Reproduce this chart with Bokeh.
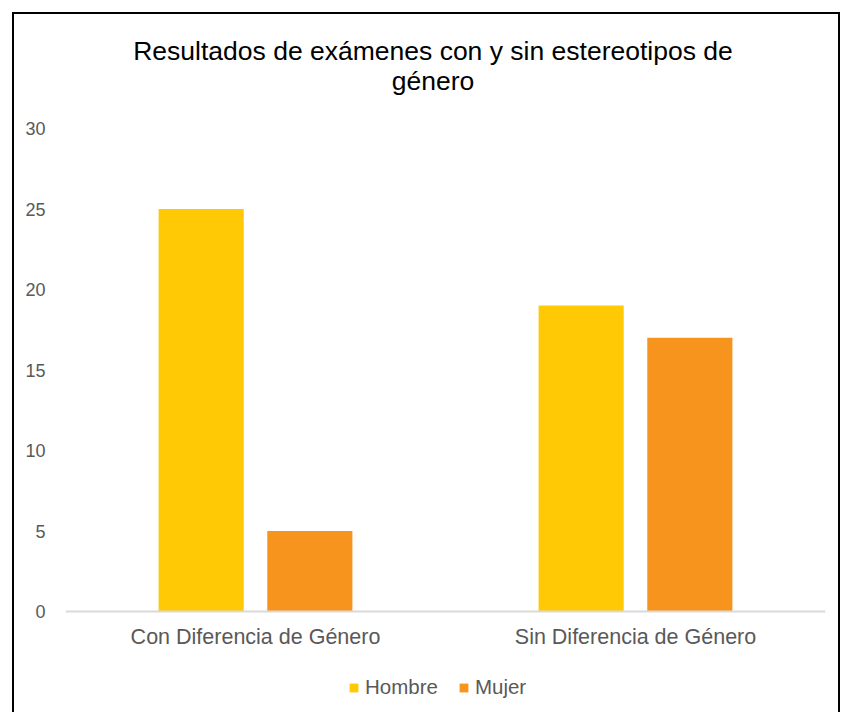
from bokeh.plotting import figure
from bokeh.models import (ColumnDataSource, FixedTicker, Legend, LegendItem,
                          Range1d, FactorRange, Label, Span)
from bokeh.core.properties import value
from bokeh.transform import dodge
from bokeh.embed import file_html
from bokeh.resources import INLINE

categories = ["Con Diferencia de Género", "Sin Diferencia de Género"]
hombre = [25, 19]
mujer = [5, 17]
series_names = ["Hombre", "Mujer"]
colors = ["#FFC906", "#F7941E"]
y_ticks = [0, 5, 10, 15, 20, 25, 30]
title_lines = ["Resultados de exámenes con y sin estereotipos de", "género"]

FONT = "Liberation Sans"
GREY = "#595959"

# layout (pixels inside the bordered canvas)
FRAME_W, FRAME_H = 760, 698
PX_PER_UNIT = 483 / 30.0          # value axis 0..30 spans 483 px
ZERO_FROM_BOTTOM = 101            # px from frame bottom to value 0
y_start = -ZERO_FROM_BOTTOM / PX_PER_UNIT
y_end = (FRAME_H - ZERO_FROM_BOTTOM) / PX_PER_UNIT

src = ColumnDataSource(dict(cat=categories, hombre=hombre, mujer=mujer))

p = figure(frame_width=FRAME_W, frame_height=FRAME_H,
           x_range=FactorRange(*categories, range_padding=0),
           y_range=Range1d(y_start, y_end), output_backend="svg", toolbar_location=None,
           min_border_left=51, min_border_right=13, min_border_top=0, min_border_bottom=0,
           x_axis_location=None, margin=(12, 0, 0, 12),
           styles={"border-top": "2px solid black", "border-left": "2px solid black",
                   "border-right": "2px solid black", "box-sizing": "content-box"})
p.title.visible = False
p.outline_line_color = None
p.background_fill_color = "white"
p.border_fill_color = "white"

r1 = p.vbar(x=dodge("cat", -0.143, range=p.x_range), top="hombre", width=0.224,
            source=src, color=colors[0], line_color=None)
r2 = p.vbar(x=dodge("cat", 0.143, range=p.x_range), top="mujer", width=0.224,
            source=src, color=colors[1], line_color=None)

p.xgrid.visible = False
p.ygrid.visible = False

p.yaxis.ticker = FixedTicker(ticks=y_ticks)
p.yaxis.axis_line_color = None
p.yaxis.major_tick_line_color = None
p.yaxis.minor_tick_line_color = None
p.yaxis.major_label_text_font = FONT
p.yaxis.major_label_text_font_size = "18px"
p.yaxis.major_label_text_color = GREY
p.yaxis.major_label_standoff = 14

# category axis: baseline at value 0 and category labels below it
p.add_layout(Span(location=0, dimension="width", line_color="#D9D9D9", line_width=2))
p.text(x="cat", y=0, text="cat", source=src, y_offset=25,
       text_align="center", text_baseline="middle",
       text_font=value(FONT), text_font_size="21.5px", text_color=GREY)

# two-line centred title
for i, line in enumerate(title_lines):
    p.add_layout(Label(x=367.5, y=662 - 30 * i, x_units="screen", y_units="screen",
                       text=line, text_font=FONT, text_font_size="26.5px",
                       text_color="black", text_align="center", text_baseline="middle"))

legend = Legend(items=[LegendItem(label=series_names[0], renderers=[r1]),
                       LegendItem(label=series_names[1], renderers=[r2])],
                orientation="horizontal", location=(283, 13),
                glyph_width=11, glyph_height=11, label_standoff=6, spacing=20,
                padding=0, margin=0, border_line_color=None, background_fill_alpha=0,
                label_text_font=FONT, label_text_font_size="20.5px", label_text_color=GREY)
p.add_layout(legend, "center")

open("out.html", "w").write(file_html(p, INLINE))
